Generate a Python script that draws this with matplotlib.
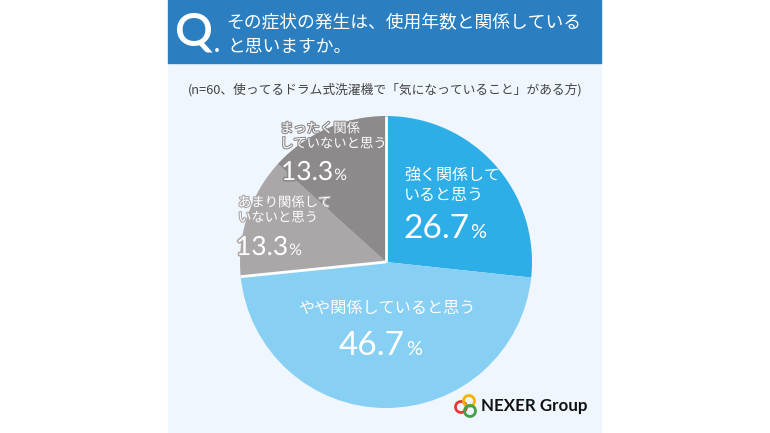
import numpy as np
import matplotlib.pyplot as plt
import matplotlib.patheffects as pe
from matplotlib.patches import Rectangle, Circle

# =========================================================
# DATA
# =========================================================
labels = ['強く関係して\nいると思う', 'やや関係していると思う',
          'あまり関係して\nいないと思う', 'まったく関係\nしていないと思う']
values = [26.7, 46.7, 13.3, 13.3]
colors = ['#2eaee6', '#87d0f3', '#aba7a8', '#8e8a8b']

title_lines = ['その症状の発生は、使用年数と関係している', 'と思いますか。']
subtitle = '(n=60、使ってるドラム式洗濯機で「気になっていること」がある方)'

JP = ['Noto Sans CJK JP', 'DejaVu Sans']
NUM = ['Lato', 'Noto Sans CJK JP']

W, H = 770, 433
fig = plt.figure(figsize=(W / 100, H / 100), dpi=100)
ax = fig.add_axes([0, 0, 1, 1])

def Y(y):
    return H - y

# panel + header band
ax.add_patch(Rectangle((168, Y(433)), 433, 433 - 63, color='#eff6fd', zorder=0))
ax.add_patch(Rectangle((168, Y(63)), 433, 63, color='#2b7fc1', zorder=1))

ax.text(175, Y(33), 'Q', color='white', fontsize=34, family=NUM, fontweight='semibold',
        va='center', ha='left')
ax.text(214, Y(52), '.', color='white', fontsize=18, family=NUM, fontweight='bold',
        va='baseline', ha='left')
ax.text(226, Y(23), title_lines[0], color='white', fontsize=12.8, family=JP,
        va='center', ha='left')
ax.text(227, Y(47), title_lines[1], color='white', fontsize=12.8, family=JP,
        va='center', ha='left')
ax.text(385, Y(90), subtitle, color='#444444', fontsize=9.2, family=JP,
        va='center', ha='center')

# =========================================================
# PIE
# =========================================================
cx, cy, r = 386, Y(262), 146
ax.pie(values, colors=colors, startangle=90, counterclock=False,
       center=(cx, cy), radius=r, frame=True,
       wedgeprops=dict(linewidth=0))

# white separators between the blue group and the grey group
cum = np.concatenate([[0], np.cumsum(values)]) / sum(values)
for frac in [cum[0], cum[2]]:
    ang = np.deg2rad(90 - 360 * frac)
    ax.plot([cx, cx + r * np.cos(ang)], [cy, cy + r * np.sin(ang)],
            color='white', lw=2, solid_capstyle='butt', zorder=5)

ax.set_xlim(0, W)
ax.set_ylim(0, H)
ax.set_aspect('auto')
ax.axis('off')

fig.canvas.draw()
renderer = fig.canvas.get_renderer()
inv = ax.transData.inverted()

def pct_label(x, y, val, size, stroke=None):
    fx = [pe.withStroke(linewidth=2.2, foreground=stroke)] if stroke else None
    t = ax.text(x, Y(y), f'{val:.1f}', color='white', fontsize=size, family=NUM,
                va='baseline', ha='left', zorder=6, path_effects=fx)
    bb = t.get_window_extent(renderer)
    x1 = inv.transform((bb.x1, bb.y0))[0]
    ax.text(x1 + 1, Y(y), '%', color='white', fontsize=size * 0.6, family=NUM,
            va='baseline', ha='left', zorder=6, path_effects=fx)

# 強く関係している
ax.text(404, Y(186), labels[0], color='white', fontsize=11.5, family=JP,
        va='center', ha='left', linespacing=1.15, zorder=6)
pct_label(403, 238, values[0], 24)

# やや関係している
ax.text(387, Y(308), labels[1], color='white', fontsize=11.6, family=JP,
        va='center', ha='center', zorder=6)
pct_label(339, 355, values[1], 24)

# あまり関係していない
ax.text(238, Y(210), labels[2], color='white', fontsize=9.6, family=JP,
        va='center', ha='left', linespacing=1.1, zorder=6,
        path_effects=[pe.withStroke(linewidth=1.6, foreground=colors[2])])
pct_label(236, 255, values[2], 19, stroke=colors[2])

# まったく関係していない
ax.text(280, Y(136), labels[3], color='white', fontsize=9.6, family=JP,
        va='center', ha='left', linespacing=1.1, zorder=6,
        path_effects=[pe.withStroke(linewidth=1.6, foreground=colors[3])])
pct_label(281, 180, values[3], 19, stroke=colors[3])

# logo
for (lx, ly, c) in [(461, 407, '#e53935'), (469, 401, '#f4b400'), (470, 411, '#43a047')]:
    ax.add_patch(Circle((lx, Y(ly)), 5.5, fill=False, ec=c, lw=2, zorder=6))
ax.text(481, Y(406), 'NEXER Group', color='#111111', fontsize=12.2,
        family=['Lato', 'DejaVu Sans'], fontweight='bold', va='center', ha='left')

fig.savefig('out.png', dpi=100)
